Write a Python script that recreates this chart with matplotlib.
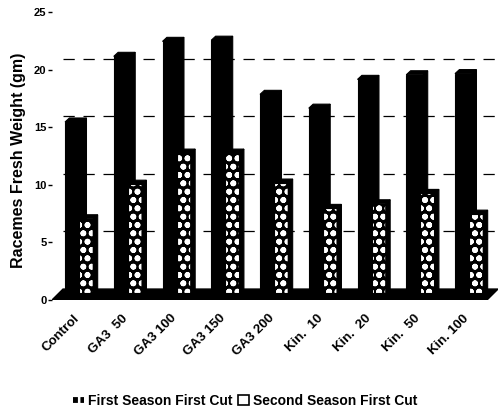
"""Racemes fresh weight: pseudo-3D clustered columns, two seasons."""
import matplotlib
matplotlib.use("Agg")
import matplotlib.pyplot as plt
from matplotlib.patches import Polygon, Patch

plt.rcParams["font.family"] = ["Liberation Sans", "DejaVu Sans"]
plt.rcParams["font.weight"] = "bold"
plt.rcParams["hatch.linewidth"] = 1.8

treatments = ["Control", "GA3  50", "GA3 100", "GA3 150", "GA3 200",
              "Kin.  10", "Kin.  20", "Kin.  50", "Kin. 100"]
first_season = [15.2, 20.9, 22.2, 22.3, 17.6, 16.4, 18.9, 19.3, 19.4]
second_season = [6.8, 9.8, 12.5, 12.5, 9.9, 7.7, 8.1, 9.0, 7.2]
y_ticks = [0, 5, 10, 15, 20, 25]

# depth look (data units)
DX, DY = 0.09, 0.35
BASE = 0.6
WALL = BASE + DY
XMIN, XMAX = -0.567, 8.582

fig = plt.figure(figsize=(5.03, 4.16), dpi=100)
ax = fig.add_axes([52 / 503, 116 / 416, 446 / 503, 288 / 416])
ax.set_xlim(XMIN, XMAX)
ax.set_ylim(0, 25)

# floor
ax.add_patch(Polygon([(XMIN, 0), (XMIN + 0.226, WALL), (XMAX, WALL),
                      (XMAX - 0.226, 0)], closed=True, fc="black", ec="black",
                     lw=1, zorder=1))
# back wall grid
for v in y_ticks[1:-1]:
    ax.plot([XMIN + 0.226, XMAX], [v + WALL, v + WALL], color="black", lw=0.9,
            ls=(0, (9, 7)), zorder=1)


def column(x, w, h, hatched, z):
    top = BASE + h - DY
    if hatched:
        ax.bar(x, top - BASE, width=w, bottom=BASE, align="edge", color="black",
               edgecolor="white", hatch="oo", lw=0, zorder=z)
        ax.bar(x, top - BASE, width=w, bottom=BASE, align="edge", fill=False,
               edgecolor="black", lw=0.8, zorder=z)
    else:
        ax.bar(x, top - BASE, width=w, bottom=BASE, align="edge", color="black",
               edgecolor="black", lw=0.8, zorder=z)
    side = [(x + w, BASE), (x + w + DX, BASE + DY), (x + w + DX, top + DY), (x + w, top)]
    cap = [(x, top), (x + DX, top + DY), (x + w + DX, top + DY), (x + w, top)]
    for pts in (side, cap):
        ax.add_patch(Polygon(pts, closed=True, fc="black", ec="black", lw=0.8, zorder=z))


for i, (a, b) in enumerate(zip(first_season, second_season)):
    column(i - 0.30, 0.35, a, False, 2)
    column(i - 0.01, 0.29, b, True, 3)

ax.set_yticks(y_ticks)
ax.set_yticklabels([str(t) for t in y_ticks], fontsize=8, fontweight="bold")
ax.tick_params(axis="y", length=3, width=1, pad=1, direction="out")
ax.set_xticks([i - 0.05 for i in range(len(treatments))])
ax.set_xticklabels(treatments, rotation=45, ha="right", va="center",
                   rotation_mode="anchor", fontsize=9.5, fontweight="bold")
ax.tick_params(axis="x", length=0, pad=12)
for s in ax.spines.values():
    s.set_visible(False)

fig.text(19 / 503, 1 - 160 / 416, "Racemes Fresh Weight (gm)", rotation=90,
         ha="center", va="center", fontsize=11.5, fontweight="bold")

handles = [Patch(facecolor="black", edgecolor="white", hatch="++", lw=0),
           Patch(facecolor="white", edgecolor="black", lw=1.2)]
fig.legend(handles, ["First Season First Cut", "Second Season First Cut"],
           loc="center", bbox_to_anchor=(245 / 503, 1 - 401 / 416), ncol=2,
           frameon=False, handlelength=0.8, handleheight=0.8, handletextpad=0.3,
           columnspacing=0.4, prop={"size": 10, "weight": "bold"})

fig.savefig("out.png", dpi=100)
